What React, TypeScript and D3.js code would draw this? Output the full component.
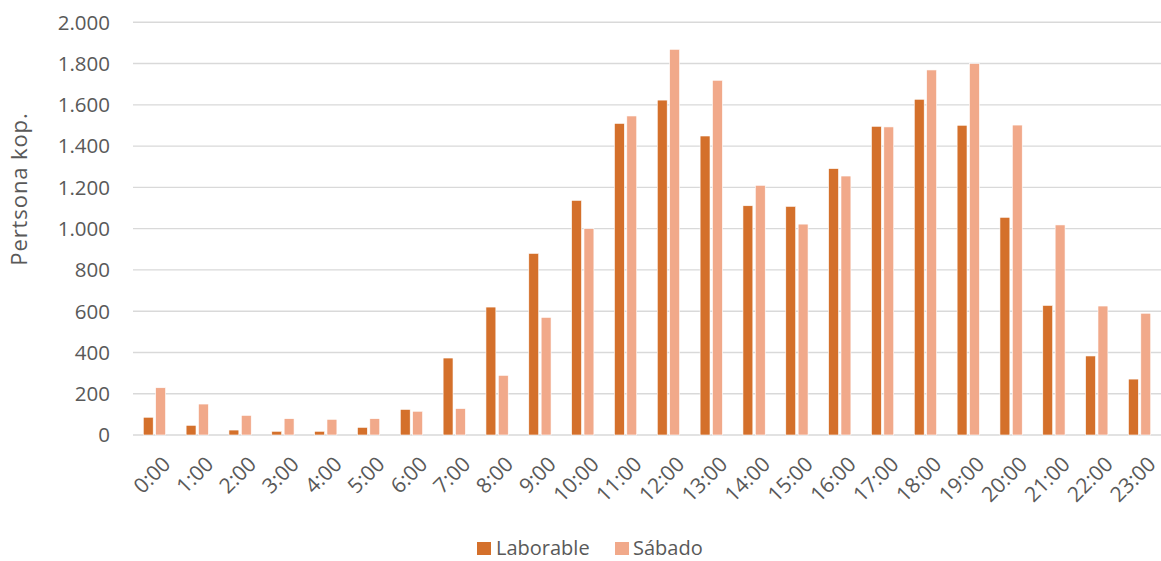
import React from "react";
import * as d3 from "d3";

const hours = ["0:00","1:00","2:00","3:00","4:00","5:00","6:00","7:00","8:00","9:00","10:00","11:00","12:00","13:00","14:00","15:00","16:00","17:00","18:00","19:00","20:00","21:00","22:00","23:00"];
const laborable = [86,47,24,18,18,37,124,373,620,880,1137,1510,1623,1449,1111,1108,1291,1496,1627,1501,1055,628,383,271];
const sabado = [229,150,95,79,76,79,115,128,289,570,1000,1546,1869,1719,1210,1022,1255,1493,1769,1800,1502,1018,625,590];
const seriesNames = ["Laborable", "Sábado"];
const seriesColors = ["#D4702B", "#F1A98A"];
const yTicks = [0,200,400,600,800,1000,1200,1400,1600,1800,2000];

const W = 1161, H = 561;
const left = 133, right = 1161, top = 22.3, bottom = 435;
const FONT = "'Open Sans', 'Noto Sans', sans-serif";
const TXT = "#595959";

export default function App() {
  const x = d3.scaleBand<string>().domain(hours).range([left, right]).paddingInner(0.48).paddingOuter(0.24);
  const xs = d3.scaleBand<string>().domain(seriesNames).range([0, x.bandwidth()]).paddingInner(0.2);
  const y = d3.scaleLinear().domain([0, 2000]).range([bottom, top]);
  const fmt = (v: number) => d3.format(",")(v).replace(/,/g, ".");
  const data = [laborable, sabado];

  return (
    <svg width={W} height={H} style={{ position: "absolute", left: 0, top: 0, background: "#fff" }} fontFamily={FONT}>
      {yTicks.map((t) => (
        <g key={t}>
          <line x1={left} x2={right} y1={y(t)} y2={y(t)} stroke="#D9D9D9" strokeWidth={1.4} />
          <text x={110} y={y(t)} dy="0.36em" textAnchor="end" fontSize={20.5} fill={TXT}>{fmt(t)}</text>
        </g>
      ))}
      {data.map((vals, si) =>
        vals.map((v, i) => (
          <rect key={si + "-" + i}
            x={(x(hours[i]) as number) + (xs(seriesNames[si]) as number)}
            y={y(v)} width={xs.bandwidth()} height={y(0) - y(v)}
            fill={seriesColors[si]} stroke="#fff" strokeWidth={0.6} />
        ))
      )}
      {hours.map((h) => {
        const cx = (x(h) as number) + x.bandwidth() / 2;
        return (
          <text key={h} transform={`translate(${cx + 7},${455}) rotate(-45)`} textAnchor="end" dy="0.7em" fontSize={21} fill={TXT}>{h}</text>
        );
      })}
      <text transform={`translate(${27},${189}) rotate(-90)`} textAnchor="middle" fontSize={22} letterSpacing={0.9} fill={TXT}>Pertsona kop.</text>
      <g>
        <rect x={477} y={542} width={14} height={13} fill={seriesColors[0]} />
        <text x={496} y={555} fontSize={20} fill={TXT}>{seriesNames[0]}</text>
        <rect x={615} y={542} width={14} height={13} fill={seriesColors[1]} />
        <text x={633} y={555} fontSize={20} fill={TXT}>{seriesNames[1]}</text>
      </g>
    </svg>
  );
}
